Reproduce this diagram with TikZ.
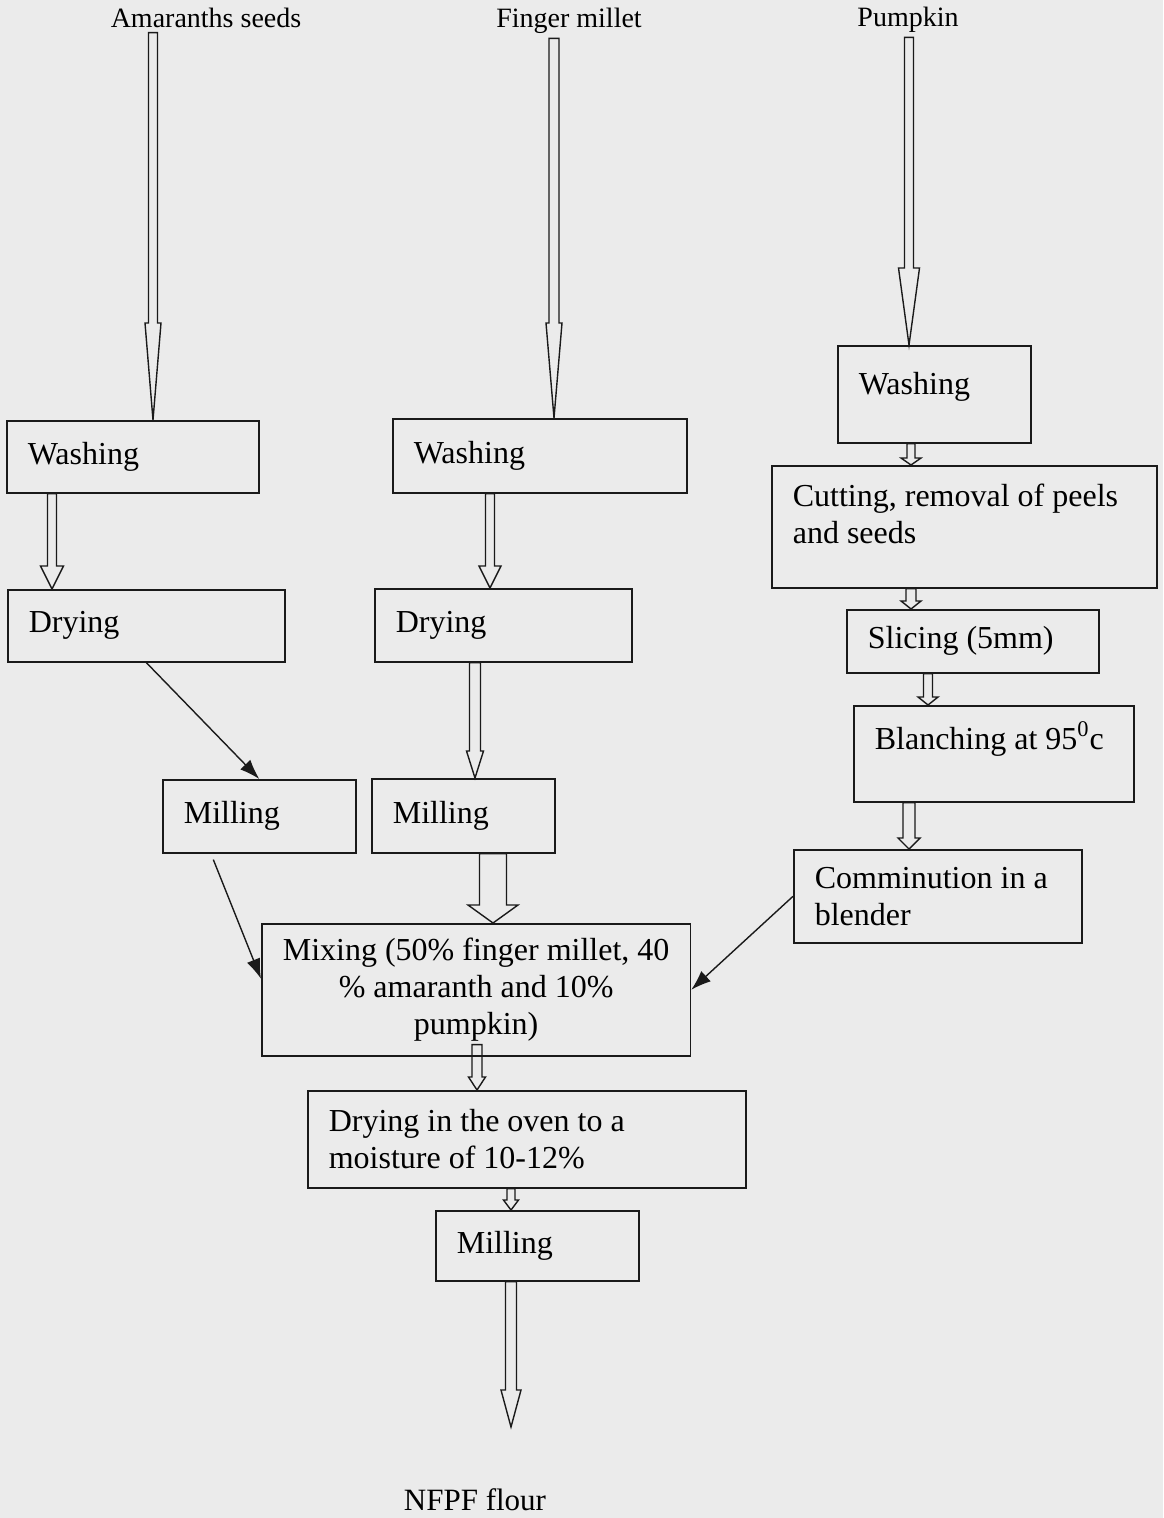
\documentclass[tikz,border=0pt]{standalone}
\usepackage{fontspec}
\setmainfont{Liberation Serif}
\usepackage{xcolor}
\definecolor{pagegray}{HTML}{EBEBEB}
\definecolor{inkblack}{HTML}{1A1A1A}
\usetikzlibrary{calc,arrows.meta}
% hollow block arrow: column x, from, to, half shaft, half head, head length
\newcommand{\hollowarrow}[6]{%
  \draw[blockarrow] let \p1=(#2), \p2=(#3), \p3=(#1,0) in
    (\x3-#4,\y1) -- (\x3-#4,\y2+#6) -- (\x3-#5,\y2+#6) -- (\x3,\y2)
    -- (\x3+#5,\y2+#6) -- (\x3+#4,\y2+#6) -- (\x3+#4,\y1) -- cycle;}

\begin{document}
\begin{tikzpicture}[x=0.5pt,y=-0.5pt,
  font=\fontsize{16}{18.5}\selectfont,
  box/.style={draw=inkblack,line width=0.8pt,anchor=north west,
              align=flush left,inner xsep=10.5pt,inner ysep=3pt},
  source/.style={font=\fontsize{14}{16}\selectfont,anchor=base,inner sep=2pt},
  blockarrow/.style={draw=inkblack,line width=0.7pt,line join=miter},
  feed/.style={draw=inkblack,line width=0.7pt,-{Latex[length=10pt,width=7pt]}}]
  \fill[pagegray] (0,0) rectangle (1163,1518);
  \useasboundingbox (0,0) rectangle (1163,1518);

  % raw materials
  \node[source] (amr)  at (206,28) {Amaranths seeds};
  \node[source] (fing) at (569,28) {Finger millet};
  \node[source] (pump) at (908,27) {Pumpkin};

  % amaranth line
  \node[box,text width=105pt,minimum height=36pt] (wash1) at (6,420) {Washing};
  \node[box,text width=117.5pt,minimum height=36pt] (dry1) at (7,589) {Drying};
  \node[box,text width=75.5pt,minimum height=36.5pt] (mill1) at (162,779) {Milling};

  % finger millet line
  \node[box,text width=126pt,minimum height=37pt] (wash2) at (392,418) {Washing};
  \node[box,text width=107.5pt,minimum height=36.5pt] (dry2) at (374,588) {Drying};
  \node[box,text width=70.5pt,minimum height=37pt] (mill2) at (371,778) {Milling};

  % pumpkin line
  \node[box,text width=75.5pt,minimum height=48.5pt,text depth=11pt] (wash3) at (837,345) {Washing};
  \node[box,text width=171.5pt,minimum height=61pt,text depth=31.5pt] (cut) at (771,465)
    {Cutting, removal of peels\\and seeds};
  \node[box,text width=105pt,minimum height=31.5pt] (slice) at (846,609) {Slicing (5mm)};
  \node[box,text width=119pt,minimum height=48pt,text depth=18.5pt] (blanch) at (853,705)
    {Blanching at 95\textsuperscript{0}c};
  \node[box,text width=123pt,minimum height=46.5pt] (comm) at (793,849)
    {Comminution in a\\blender};

  % common line
  \node[box,align=center,minimum width=213pt,minimum height=66pt] (mix) at (261,923)
    {Mixing (50\% finger millet, 40\\\% amaranth and 10\%\\pumpkin)};
  \node[box,text width=198pt,minimum height=48.5pt] (oven) at (307,1090)
    {Drying in the oven to a\\moisture of 10-12\%};
  \node[box,text width=80.5pt,minimum height=35pt] (mill3) at (435,1210) {Milling};
  \coordinate (flourtip) at (511,1427);
  \node[source,font=\fontsize{15.5}{18}\selectfont] (flour) at (475,1510) {NFPF flour};

  % block arrows
  \hollowarrow{153}{amr.south}{wash1.north}{2.25pt}{4pt}{48.5pt}
  \hollowarrow{52}{wash1.south}{dry1.north}{2.25pt}{5.75pt}{11.5pt}
  \hollowarrow{554}{fing.south}{wash2.north}{2.5pt}{4pt}{47.5pt}
  \hollowarrow{490}{wash2.south}{dry2.north}{2.25pt}{5.5pt}{11pt}
  \hollowarrow{475}{dry2.south}{mill2.north}{2.75pt}{4.25pt}{13.5pt}
  \hollowarrow{493}{mill2.south}{mix.north}{6.75pt}{12.5pt}{9pt}
  \hollowarrow{909}{pump.south}{wash3.north}{2.25pt}{5.25pt}{38.5pt}
  \hollowarrow{911}{wash3.south}{cut.north}{2pt}{5pt}{3.5pt}
  \hollowarrow{911}{cut.south}{slice.north}{2.5pt}{5pt}{4pt}
  \hollowarrow{928}{slice.south}{blanch.north}{2.25pt}{5pt}{4pt}
  \hollowarrow{909}{blanch.south}{comm.north}{3pt}{5.5pt}{5.5pt}
  \hollowarrow{477}{[yshift=6pt]mix.south}{oven.north}{2.5pt}{4.25pt}{6.5pt}
  \hollowarrow{511}{oven.south}{mill3.north}{2pt}{3.75pt}{5pt}
  \hollowarrow{511}{mill3.south}{flourtip}{2.75pt}{5pt}{18.5pt}

  % feed lines into milling and mixing
  \draw[feed] (dry1.south) -- (mill1.north);
  \draw[feed] ([xshift=-23pt,yshift=-3pt]mill1.south) -- ([yshift=5.5pt]mix.west);
  \draw[feed] (comm.west) -- (mix.east);
\end{tikzpicture}
\end{document}
